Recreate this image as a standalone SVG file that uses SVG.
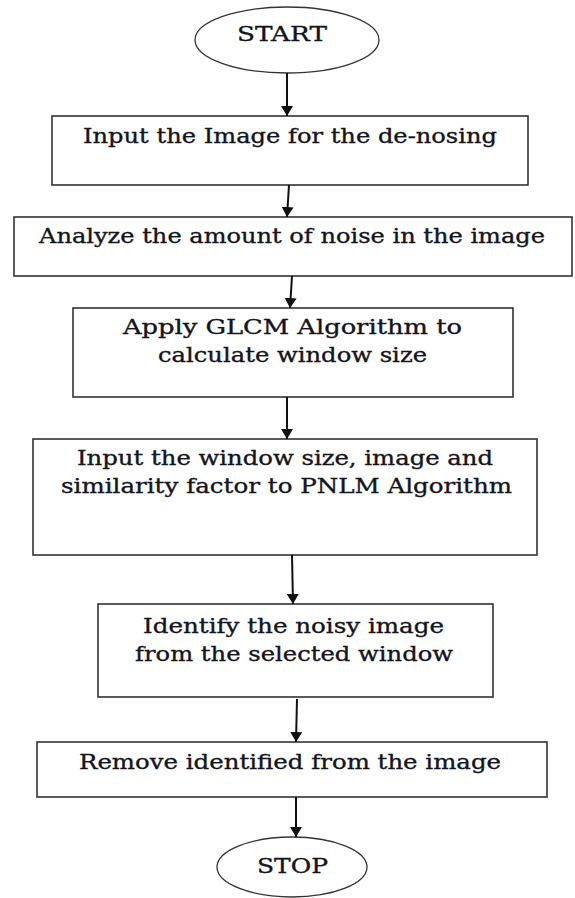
<svg xmlns="http://www.w3.org/2000/svg" width="575" height="898" viewBox="0 0 575 898">
<style>
.box{fill:#ffffff;stroke:#333333;stroke-width:1.6}
.term{fill:#ffffff;stroke:#333333;stroke-width:1.3}
.lbl{font-family:'DejaVu Serif','Liberation Serif',serif;font-size:20px;fill:#141420;stroke:#141420;stroke-width:0.35}
.conn{stroke:#111111;stroke-width:2;fill:none;marker-end:url(#ah)}
</style>
<defs>
<marker id="ah" viewBox="0 0 10 12" refX="10" refY="6" markerWidth="10" markerHeight="12" markerUnits="userSpaceOnUse" orient="auto">
<path d="M0,0 L10,6 L0,12 z" fill="#111111"/>
</marker>
</defs>
<rect width="575" height="898" fill="#ffffff"/>
<g id="start">
<ellipse class="term" cx="287" cy="40" rx="92" ry="33"/>
<text class="lbl" x="237" y="41" textLength="90" lengthAdjust="spacingAndGlyphs">START</text>
</g>
<g id="input-image">
<rect class="box" x="52" y="116" width="476" height="69"/>
<text class="lbl" x="83" y="143" textLength="414" lengthAdjust="spacingAndGlyphs">Input the Image for the de-nosing</text>
</g>
<g id="analyze-noise">
<rect class="box" x="14" y="217" width="558" height="59"/>
<text class="lbl" x="39" y="243" textLength="506" lengthAdjust="spacingAndGlyphs">Analyze the amount of noise in the image</text>
</g>
<g id="apply-glcm">
<rect class="box" x="73" y="308" width="440" height="89"/>
<text class="lbl" x="123" y="334" textLength="339" lengthAdjust="spacingAndGlyphs">Apply GLCM Algorithm to</text>
<text class="lbl" x="158" y="362" textLength="269" lengthAdjust="spacingAndGlyphs">calculate window size</text>
</g>
<g id="input-pnlm">
<rect class="box" x="33" y="439" width="504" height="116"/>
<text class="lbl" x="77" y="465" textLength="416" lengthAdjust="spacingAndGlyphs">Input the window size, image and</text>
<text class="lbl" x="61" y="493" textLength="451" lengthAdjust="spacingAndGlyphs">similarity factor to PNLM Algorithm</text>
</g>
<g id="identify-noisy">
<rect class="box" x="98" y="604" width="395" height="93"/>
<text class="lbl" x="143" y="633" textLength="301" lengthAdjust="spacingAndGlyphs">Identify the noisy image</text>
<text class="lbl" x="135" y="661" textLength="318" lengthAdjust="spacingAndGlyphs">from the selected window</text>
</g>
<g id="remove">
<rect class="box" x="37" y="742" width="510" height="55"/>
<text class="lbl" x="79" y="769" textLength="422" lengthAdjust="spacingAndGlyphs">Remove identified from the image</text>
</g>
<g id="stop">
<ellipse class="term" cx="292" cy="867" rx="75" ry="30"/>
<text class="lbl" x="257" y="873" textLength="71" lengthAdjust="spacingAndGlyphs">STOP</text>
</g>
<g id="connectors">
<line class="conn" x1="287" y1="73" x2="287" y2="116"/>
<line class="conn" x1="289" y1="185" x2="287" y2="217"/>
<line class="conn" x1="292" y1="276" x2="290" y2="308"/>
<line class="conn" x1="287" y1="397" x2="287" y2="439"/>
<line class="conn" x1="292" y1="555" x2="293" y2="604"/>
<line class="conn" x1="297" y1="699" x2="296" y2="742"/>
<line class="conn" x1="296" y1="797" x2="296" y2="837"/>
</g>
</svg>
